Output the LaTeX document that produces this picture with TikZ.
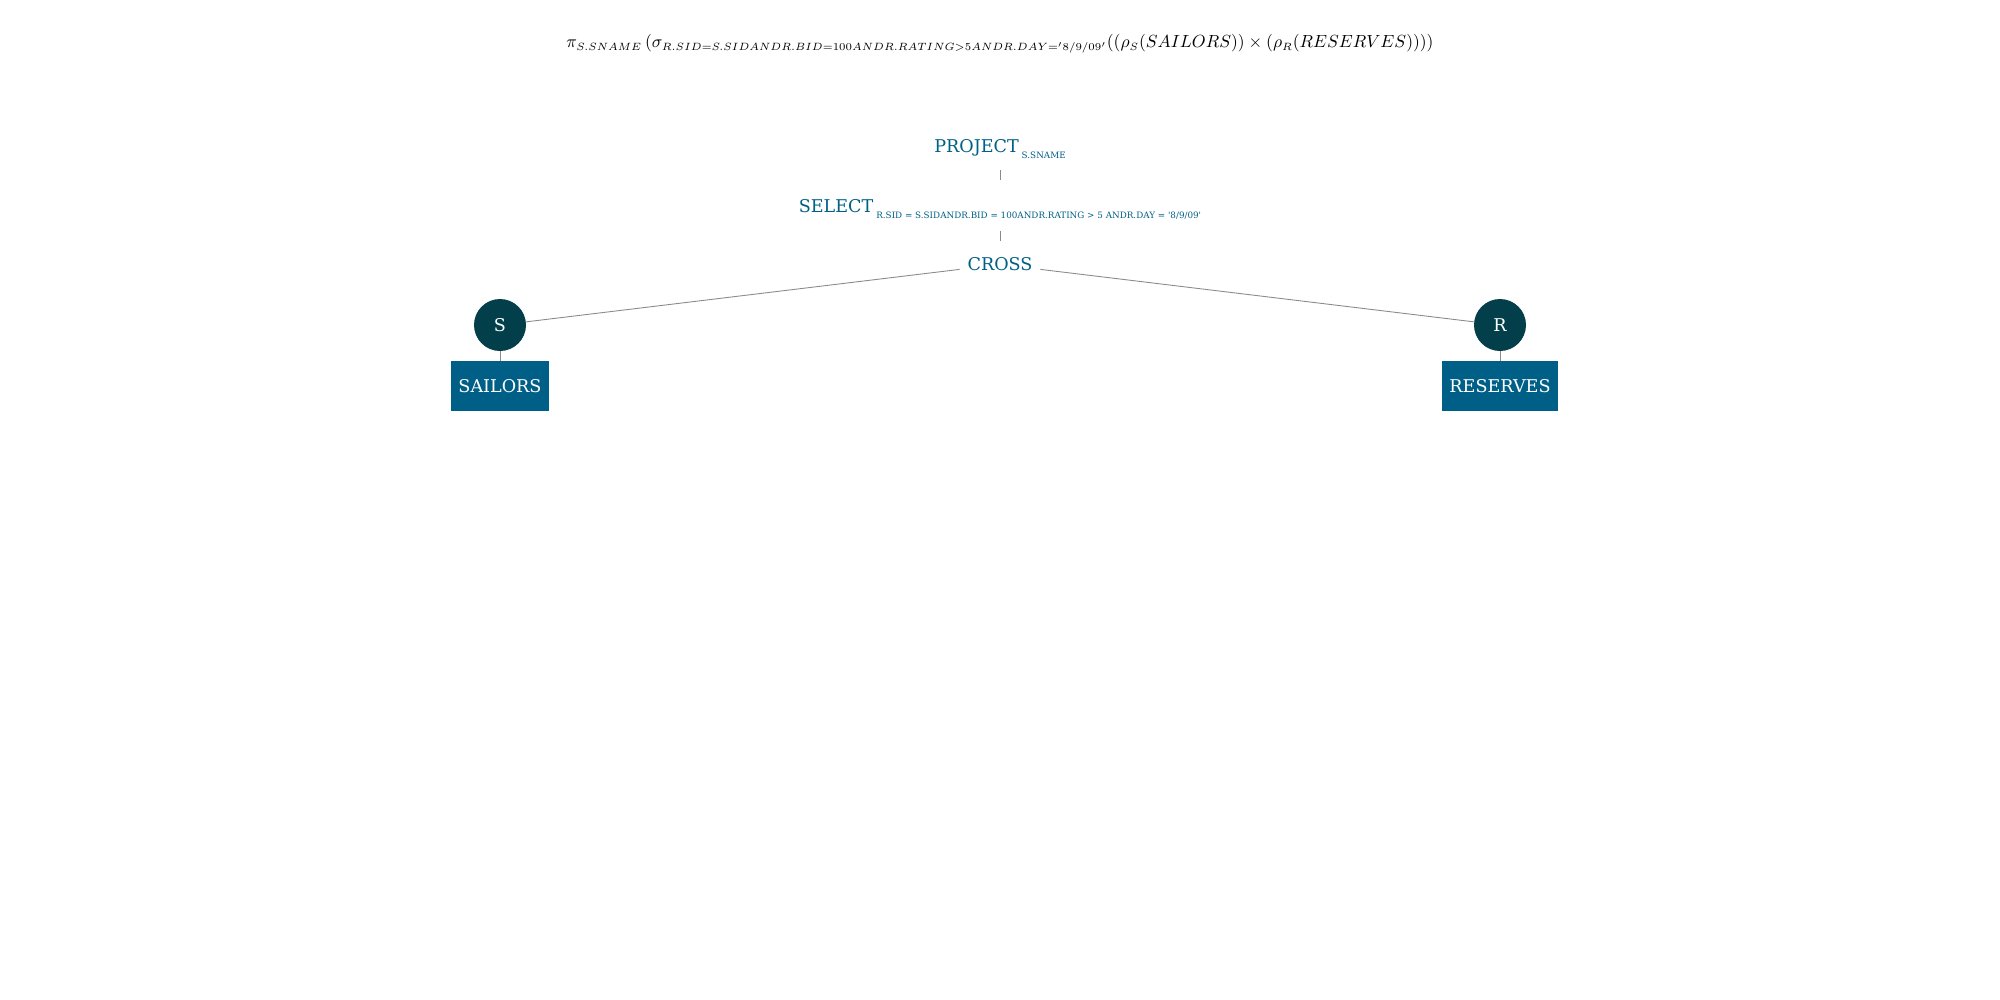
\documentclass[tikz,border=0pt]{standalone}
\usepackage{fontspec}
\usepackage{amsmath}
\newfontfamily\slab{DejaVu Serif}
\DeclareMathSizes{10.3}{10.3}{6.4}{5}
\definecolor{tealdark}{HTML}{023F4B}
\definecolor{tealmid}{HTML}{005F86}
\definecolor{linkgray}{HTML}{8A8A8A}
\newcommand{\opsub}[1]{\raisebox{-0.75ex}{\fontsize{5}{6}\selectfont #1}}

\begin{document}
\begin{tikzpicture}[
    lbl/.style={text=tealmid, font=\slab\fontsize{10}{12}\selectfont, inner sep=0pt, anchor=base},
    leaf/.style={circle, fill=tealdark, text=white, minimum size=1.04cm, inner sep=0pt, font=\slab\fontsize{10}{12}\selectfont},
    table/.style={rectangle, fill=tealmid, text=white, minimum height=1cm, inner xsep=0.15cm, font=\slab\fontsize{10}{12}\selectfont},
    link/.style={draw=linkgray, line width=0.5pt}]
\useasboundingbox (0,0) rectangle (40,-20);

\edef\c{20}
\edef\L{10}
\edef\R{30}

\node (expr) at (\c,-0.87) {\fontsize{10.3}{12}\selectfont
$\pi_{S.SNAME}\,(\sigma_{R.SID=S.SID AND R.BID=100 AND R.RATING>5 AND R.DAY='8/9/09'}((\rho_{S}(SAILORS))\times(\rho_{R}(RESERVES))))$};

\node[lbl] (project) at (\c,-3.04) {PROJECT\,\opsub{S.SNAME}};
\node[lbl] (select) at (\c,-4.24) {SELECT\,\opsub{R.SID = S.SIDANDR.BID = 100ANDR.RATING > 5 ANDR.DAY = '8/9/09'}};
\node[lbl, anchor=center, minimum width=1.6cm] (cross) at (\c,-5.29) {CROSS};

\node[leaf] (s) at (\L,-6.5) {S};
\node[leaf] (r) at (\R,-6.5) {R};

\node[table] (sailors) at (\L,-7.72) {SAILORS};
\node[table] (reserves) at (\R,-7.72) {RESERVES};

\draw[link, shorten <=0.36cm, shorten >=0.64cm] (project.base) -- (select.base);
\draw[link, shorten <=0.38cm, shorten >=0.6cm] (select.base) -- (cross.base);
\draw[link] (cross) -- (s);
\draw[link] (cross) -- (r);
\draw[link] (s) -- (sailors);
\draw[link] (r) -- (reserves);
\end{tikzpicture}
\end{document}
